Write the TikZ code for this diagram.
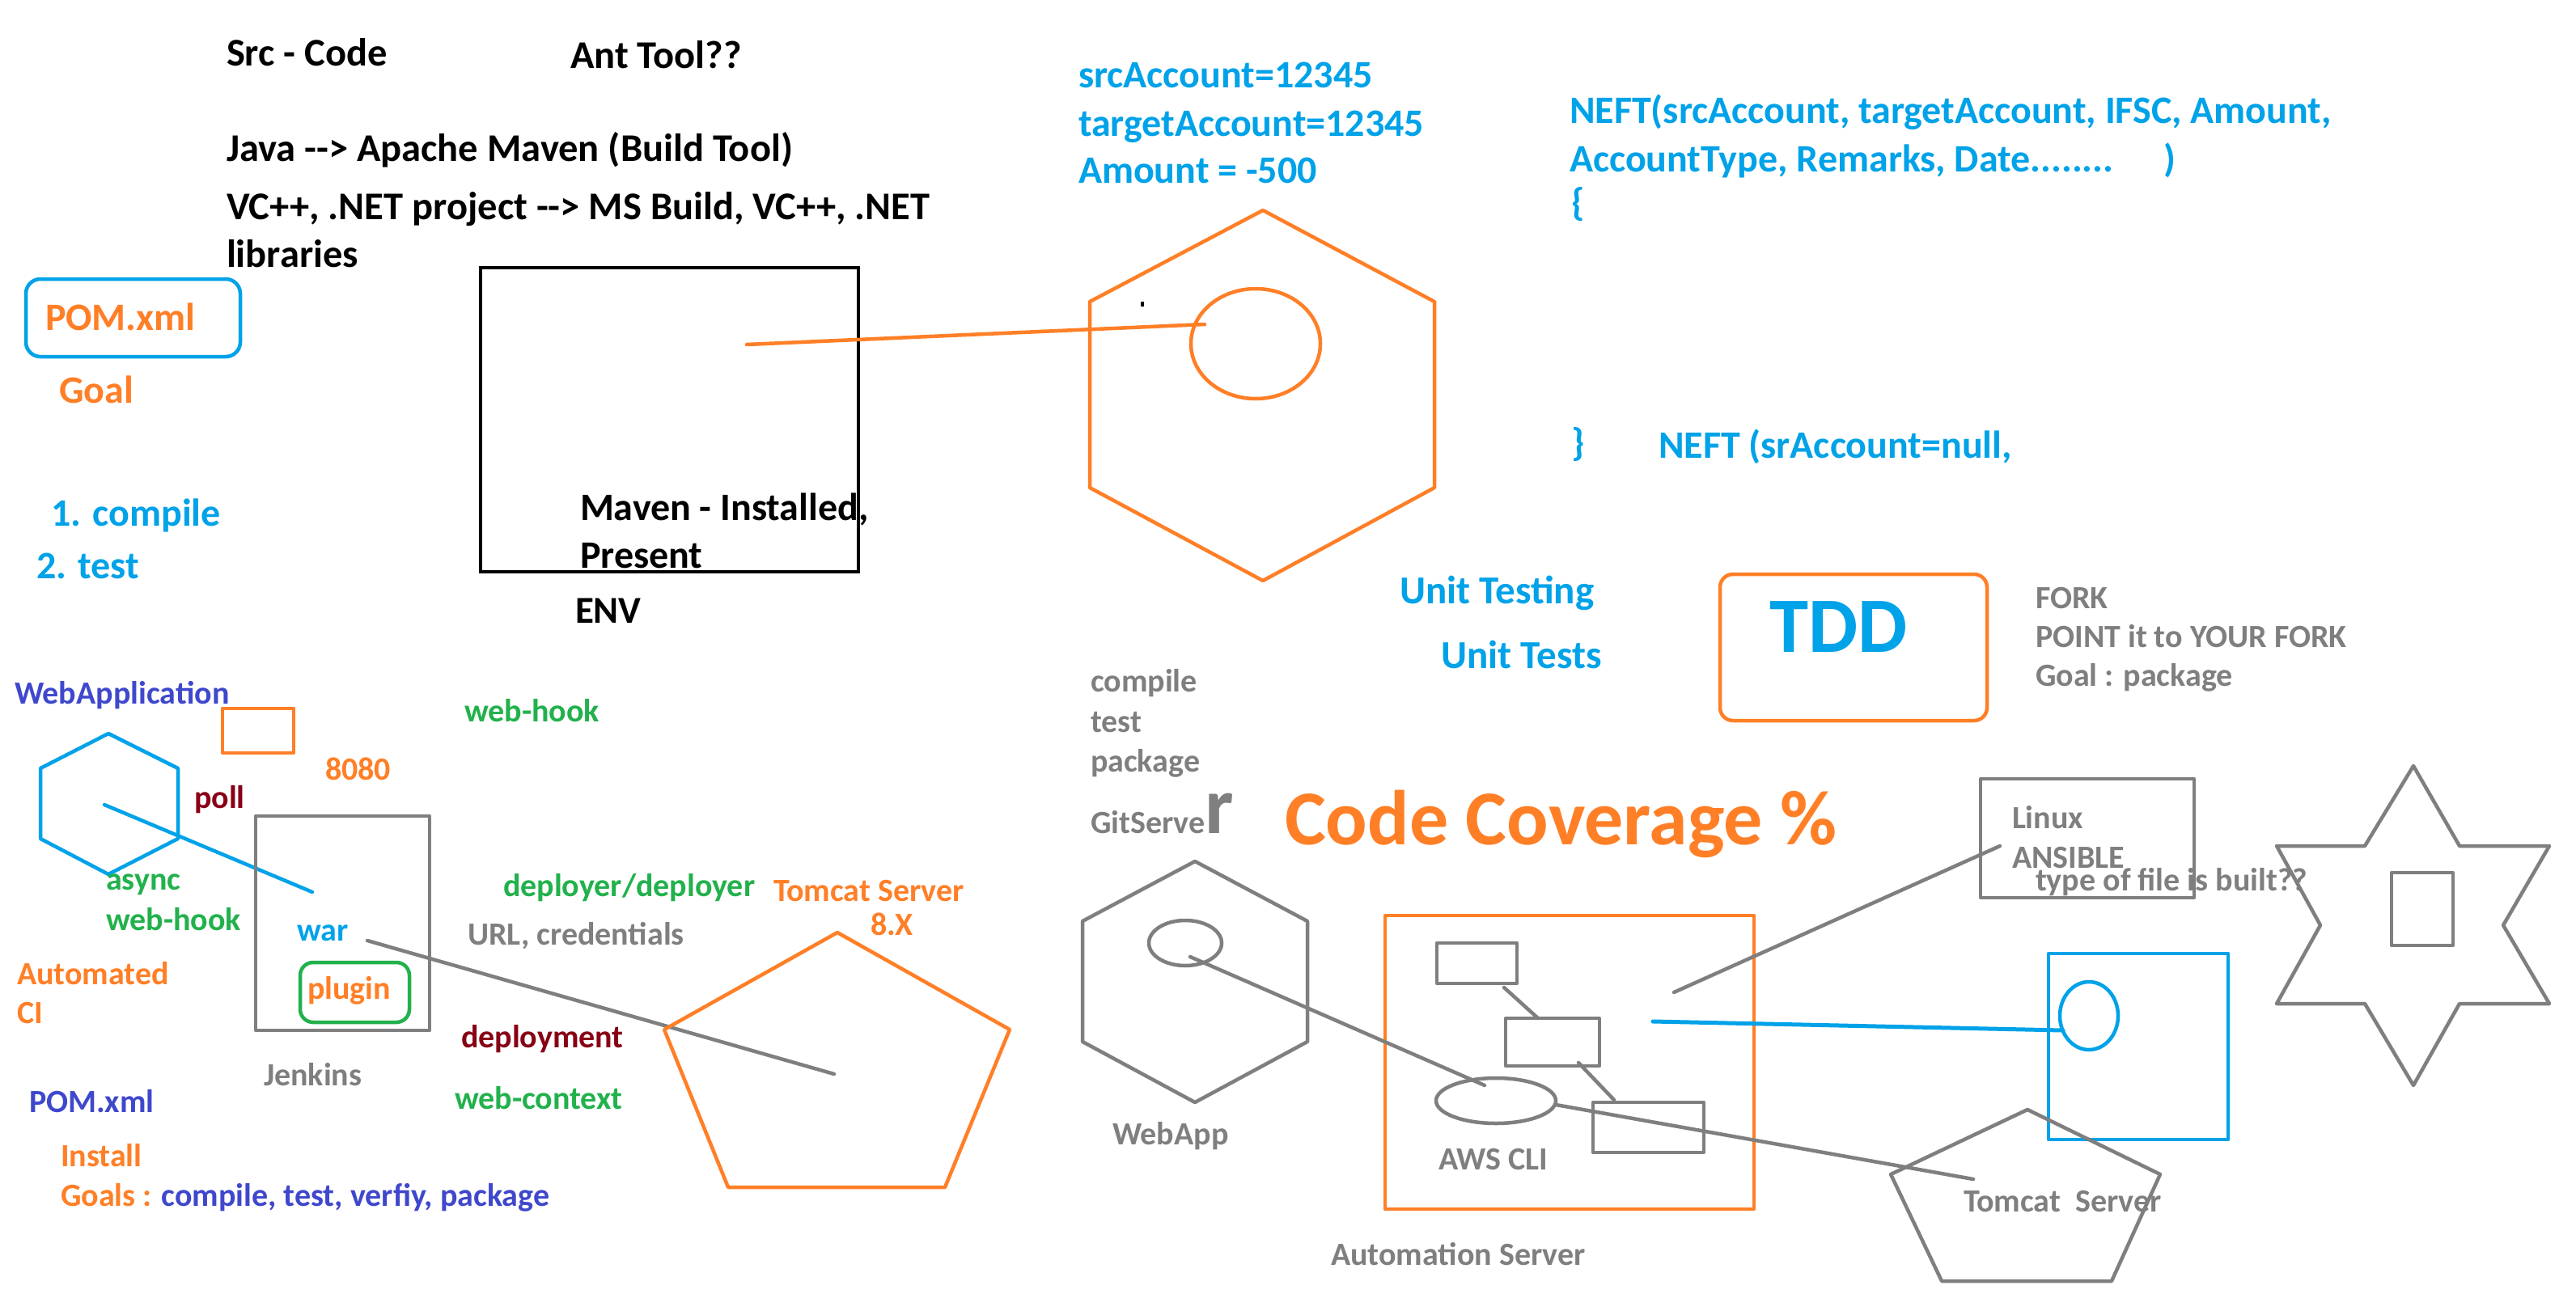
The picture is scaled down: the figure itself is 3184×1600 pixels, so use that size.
\documentclass[tikz,border=0pt]{standalone}
\usepackage{fontspec}
\setmainfont{Carlito}
\definecolor{cblue}{HTML}{00A2E8}
\definecolor{corange}{HTML}{FF7F27}
\definecolor{cgray}{HTML}{7F7F7F}
\definecolor{cpurple}{HTML}{3F48CC}
\definecolor{cdred}{HTML}{880015}
\definecolor{cgreen}{HTML}{22B14C}
\newcommand\arr{-\kern0pt->}
\tikzset{
  lbl/.style={anchor=base west, inner sep=0pt, outer sep=0pt, font=\bfseries\fontsize{#1}{#1}\selectfont},
  lbl/.default=40,
  shp/.style={line width=4.5pt, line join=round, line cap=round},
}
\begin{document}
\begin{tikzpicture}[x=1pt,y=-1pt]
\useasboundingbox[fill=white] (0,0) rectangle (3184,1600);

% ---------- top left ----------
\node[lbl=48.5] (src) at (280,82) {Src - Code};
\node[lbl=48.5] (ant) at (705,85) {Ant Tool??};
\node[lbl=48.5] (java) at (280,199) {Java \arr{} Apache Maven (Build Tool)};
\node[lbl=48.5] (vc) at (280,271) {VC++, .NET project \arr{} MS Build, VC++, .NET};
\node[lbl=48.5] (libs) at (280,330) {libraries};

\draw[shp, cblue, rounded corners=18pt] (32,345) rectangle (297,441);
\node[lbl=48, text=corange] (pom1) at (56,408) {POM.xml};
\node[lbl=48, text=corange] (goal1) at (73,498) {Goal};
\node[lbl=48, text=cblue] (c1) at (63,650) {1. compile};
\node[lbl=48, text=cblue] (c2) at (45,715) {2. test};

\draw[line width=4pt, black] (594,331) rectangle (1061,707);
\node[lbl=48, black] (mvn1) at (717,643) {Maven - Installed,};
\node[lbl=48] (mvn2) at (717,702) {Present};
\node[lbl=47] (env) at (711,770) {ENV};

% ---------- top middle ----------
\node[lbl=48, text=cblue] (sa) at (1333,109) {srcAccount=12345};
\node[lbl=48, text=cblue] (ta) at (1333,168) {targetAccount=12345};
\node[lbl=48, text=cblue] (am) at (1333,226) {Amount = -500};

\draw[shp, corange] (1561,260) -- (1773,373) -- (1773,603) -- (1561,718) -- (1347,603) -- (1347,373) -- cycle;
\draw[shp, corange] (1552,425) ellipse [x radius=80pt, y radius=68pt];
\fill[black] (1410,373) rectangle (1414,379);
\coordinate (ol1) at (923,426);
\coordinate (ol2) at (1489,401);
\draw[shp, corange] (ol1) -- (ol2);

\node[lbl=48, text=cblue] (neft1) at (1940,153) {NEFT(srcAccount, targetAccount, IFSC, Amount,};
\node[lbl=48, text=cblue] (neft2) at (1940,212) {AccountType, Remarks, Date........\hspace{62pt})};
\node[lbl=48, text=cblue] (br1) at (1942,266) {\{};
\node[lbl=48, text=cblue] (br2) at (1942,563) {\}};
\node[lbl=48, text=cblue] (neft3) at (2050,566) {NEFT (srAccount=null,};

\node[lbl=49, text=cblue] (ut1) at (1730,746) {Unit Testing};
\node[lbl=49, text=cblue] (ut2) at (1781,826) {Unit Tests};

\draw[shp, corange, rounded corners=16pt] (2126,710) rectangle (2456,891);
\node[lbl=97, text=cblue] (tdd) at (2187,806) {TDD};

\node[lbl=40, text=cgray] (fork1) at (2516,752) {FORK};
\node[lbl=40, text=cgray] (fork2) at (2516,800) {POINT it to YOUR FORK};
\node[lbl=40, text=cgray] (fork3) at (2516,848) {Goal : package};

\node[lbl=40, text=cgray] (g1) at (1348,855) {compile};
\node[lbl=40, text=cgray] (g2) at (1348,905) {test};
\node[lbl=40, text=cgray] (g3) at (1348,954) {package};
\node[lbl=40, text=cgray] (g4) at (1348,1030) {GitServe{\fontsize{100}{100}\selectfont r}};

\node[lbl=96, text=corange] (cc) at (1588,1044) {Code Coverage \%};

% ---------- right ----------
\draw[shp, cgray] (2448,963) rectangle (2712,1110);
\node[lbl=40, text=cgray] (lin) at (2487,1024) {Linux};
\node[lbl=40, text=cgray] (ans) at (2487,1073) {ANSIBLE};
\node[lbl=40, text=cgray] (typ) at (2516,1101) {type of file is built??};

\draw[shp, cgray] (2983,947) -- (3040,1046) -- (3151,1046) -- (3094,1144) -- (3151,1241) -- (3040,1241) -- (2983,1342) -- (2923,1241) -- (2814,1241) -- (2868,1144) -- (2814,1046) -- (2923,1046) -- cycle;
\draw[shp, cgray] (2956,1079) rectangle (3032,1169);

\draw[shp, cblue] (2532,1179) rectangle (2754,1409);
\draw[shp, cblue] (2582,1256) ellipse [x radius=36pt, y radius=42pt];

\draw[shp, corange] (1712,1132) rectangle (2168,1495);
\draw[shp, cgray] (1776,1166) rectangle (1875,1216);
\draw[shp, cgray] (1861,1259) rectangle (1977,1318);
\draw[shp, cgray] (1969,1363) rectangle (2106,1425);
\coordinate (r1a) at (1859,1221); \coordinate (r1b) at (1901,1259);
\coordinate (r2a) at (1951,1314); \coordinate (r2b) at (1995,1360);
\draw[shp, cgray] (r1a) -- (r1b);
\draw[shp, cgray] (r2a) -- (r2b);
\draw[shp, cgray] (1849,1361) ellipse [x radius=74pt, y radius=28pt];
\node[lbl=40, text=cgray] (aws) at (1778,1446) {AWS CLI};
\node[lbl=40, text=cgray] (auto) at (1645,1564) {Automation Server};

\coordinate (bl1) at (2043,1263); \coordinate (bl2) at (2550,1274);
\draw[line width=5pt, cblue, line cap=round] (bl1) -- (bl2);
\coordinate (gl1) at (2069,1227); \coordinate (gl2) at (2472,1046);
\draw[shp, cgray] (gl1) -- (gl2);

\draw[shp, cgray] (1477,1065) -- (1616,1139) -- (1616,1288) -- (1477,1363) -- (1338,1288) -- (1338,1139) -- cycle;
\draw[shp, cgray] (1465,1166) ellipse [x radius=45pt, y radius=28pt];
\coordinate (wl1) at (1471,1183); \coordinate (wl2) at (1835,1342);
\draw[shp, cgray] (wl1) -- (wl2);
\node[lbl=40, text=cgray] (webapp) at (1375,1415) {WebApp};

\coordinate (el1) at (1923,1366); \coordinate (el2) at (2439,1458);
\draw[shp, cgray] (el1) -- (el2);
\draw[shp, cgray] (2506,1372) -- (2670,1452) -- (2610,1584) -- (2400,1584) -- (2337,1452) -- cycle;
\node[lbl=40, text=cgray] (tom2) at (2427,1498) {Tomcat\hspace{18pt}Server};

% ---------- bottom left ----------
\node[lbl=40, text=cpurple] (wapp) at (18,870) {WebApplication};
\draw[shp, corange] (275,876) rectangle (363,931);
\node[lbl=40, text=cgreen] (wh1) at (574,892) {web-hook};
\node[lbl=40, text=corange] (port) at (402,964) {8080};
\draw[shp, cblue] (134,907) -- (220,950) -- (220,1037) -- (134,1081) -- (50,1037) -- (50,950) -- cycle;
\coordinate (hl1) at (129,995); \coordinate (hl2) at (386,1103);
\draw[shp, cblue] (hl1) -- (hl2);
\node[lbl=40, text=cdred] (poll) at (240,999) {poll};
\draw[shp, cgray] (316,1009) rectangle (531,1274);
\node[lbl=40, text=cgreen] (async) at (131,1100) {async};
\node[lbl=40, text=cgreen] (wh2) at (131,1150) {web-hook};
\node[lbl=40, text=cblue] (war) at (367,1163) {war};
\draw[shp, cgreen, rounded corners=16pt] (371,1190) rectangle (506,1264);
\node[lbl=40, text=corange] (plug) at (380,1235) {plugin};
\node[lbl=40, text=corange] (aci1) at (21,1217) {Automated};
\node[lbl=40, text=corange] (aci2) at (21,1265) {CI};
\node[lbl=40, text=cgreen] (dep) at (622,1108) {deployer/deployer};
\node[lbl=40, text=corange] (tom1) at (956,1114) {Tomcat Server};
\node[lbl=40, text=corange] (tomv) at (1076,1156) {8.X};
\node[lbl=40, text=cgray] (url) at (578,1168) {URL, credentials};
\coordinate (jl1) at (454,1163); \coordinate (jl2) at (1031,1328);
\draw[shp, cgray] (jl1) -- (jl2);
\node[lbl=40, text=cdred] (dply) at (570,1295) {deployment};
\node[lbl=40, text=cgray] (jen) at (326,1342) {Jenkins};
\node[lbl=40, text=cgreen] (wctx) at (562,1371) {web-context};
\node[lbl=40, text=cpurple] (pom2) at (36,1375) {POM.xml};
\node[lbl=40, text=corange] (inst) at (75,1442) {Install};
\node[lbl=40, text=corange] (goals) at (75,1491) {Goals : \textcolor{cpurple}{compile, test, verfiy, package}};
\draw[shp, corange] (1035,1153) -- (1248,1273) -- (1168,1468) -- (900,1468) -- (821,1273) -- cycle;
\end{tikzpicture}
\end{document}
